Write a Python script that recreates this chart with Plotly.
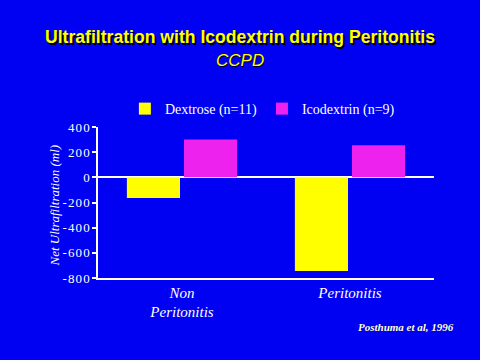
import plotly.graph_objects as go

categories = ["Non<br>Peritonitis", "Peritonitis"]
dextrose = [-165, -745]
icodextrin = [300, 255]
y_ticks = [400, 200, 0, -200, -400, -600, -800]

BG = "#0000F2"
YELLOW = "#FFFF00"
MAGENTA = "#EE22EE"
WHITE = "white"
serif = "Liberation Serif, Times New Roman, serif"
SP = "\u200a"

fig = go.Figure()
fig.add_trace(go.Bar(x=categories, y=dextrose, name="Dextrose (n=11)",
                     marker=dict(color=YELLOW, line=dict(width=0))))
fig.add_trace(go.Bar(x=categories, y=icodextrin, name="Icodextrin (n=9)",
                     marker=dict(color=MAGENTA, line=dict(width=0))))

fig.update_layout(
    width=480, height=360,
    paper_bgcolor=BG, plot_bgcolor=BG,
    margin=dict(l=98, r=46, t=127, b=82),
    barmode="group", bargap=0.32, bargroupgap=0.07,
    showlegend=True,
    legend=dict(orientation="h", x=0.08, y=1.119, xanchor="left", yanchor="middle",
                font=dict(family=serif, size=14, color=WHITE),
                bgcolor="rgba(0,0,0,0)", itemwidth=30, traceorder="normal"),
    title=dict(
        text="<b>Ultrafiltration with Icodextrin during Peritonitis</b>",
        x=0.5, xanchor="center", y=0.897, yanchor="middle",
        font=dict(family="Liberation Sans Narrow, Arial Narrow, Liberation Sans, sans-serif",
                  size=17.6, color=YELLOW, shadow="2px 2px 0px black"),
    ),
    font=dict(family=serif, color=WHITE),
)

fig.add_annotation(text="<i>CCPD</i>", xref="paper", yref="paper", x=0.5, y=1.0,
                   xanchor="center", yanchor="middle", showarrow=False,
                   xshift=-98/2+46/2, yshift=127 - 60,
                   font=dict(family="Liberation Sans Narrow, Liberation Sans, sans-serif",
                             size=17, color=YELLOW, shadow="1px 1px 0px black"))

fig.add_annotation(text="<i>Net Ultrafiltration (ml)</i>", xref="paper", yref="paper",
                   x=0, y=0.5, xanchor="center", yanchor="middle", showarrow=False,
                   textangle=-90, xshift=-44, yshift=-3,
                   font=dict(family=serif, size=13, color=WHITE))

fig.add_annotation(text="<i><b>Posthuma et al, 1996</b></i>", xref="paper", yref="paper",
                   x=1.0, y=0, xanchor="right", yanchor="middle", showarrow=False,
                   xshift=22, yshift=-49,
                   font=dict(family=serif, size=11, color="#FFFFCC"))

fig.update_xaxes(
    showline=True, linecolor=WHITE, linewidth=1.5,
    ticks="", showgrid=False,
    tickfont=dict(family=serif, size=15, color=WHITE),
    tickprefix="<i>", ticksuffix="</i>",
)
fig.update_yaxes(
    range=[-800, 400], tickvals=y_ticks, ticktext=[SP.join(str(v)) for v in y_ticks],
    showline=True, linecolor=WHITE, linewidth=1.5,
    ticks="outside", ticklen=4, tickcolor=WHITE, tickwidth=1.5,
    showgrid=False, zeroline=True, zerolinecolor=WHITE, zerolinewidth=1.5,
    tickfont=dict(family=serif, size=13, color=WHITE),
)

fig.write_html("out.html", config={"displayModeBar": False},
               post_script="document.body.style.margin='0';document.body.style.overflow='hidden';")
